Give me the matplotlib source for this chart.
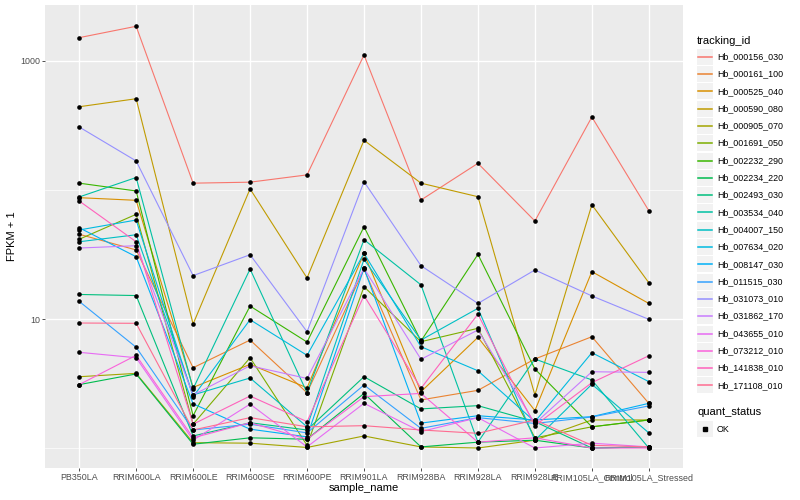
import matplotlib.pyplot as plt
from matplotlib.patches import Rectangle
from matplotlib.lines import Line2D
from matplotlib.ticker import NullFormatter
import numpy as np

plt.rcParams['font.family'] = ['Liberation Sans', 'DejaVu Sans']

samples = ['PB350LA', 'RRIM600LA', 'RRIM600LE', 'RRIM600SE', 'RRIM600PE',
           'RRIM901LA', 'RRIM928BA', 'RRIM928LA', 'RRIM928LE',
           'RRIM105LA_Control', 'RRIM105LA_Stressed']

tracking_ids = ['Hb_000156_030', 'Hb_000161_100', 'Hb_000525_040', 'Hb_000590_080',
                'Hb_000905_070', 'Hb_001691_050', 'Hb_002232_290', 'Hb_002234_220',
                'Hb_002493_030', 'Hb_003534_040', 'Hb_004007_150', 'Hb_007634_020',
                'Hb_008147_030', 'Hb_011515_030', 'Hb_031073_010', 'Hb_031862_170',
                'Hb_043655_010', 'Hb_073212_010', 'Hb_141838_010', 'Hb_171108_010']

# FPKM + 1, one value per sample (same order as samples)
hb_000156_030 = [1517, 1858, 113, 115, 131, 1113, 83.6, 161, 57.5, 368, 69.1]
hb_000161_100 = [45.4, 34.3, 4.19, 6.87, 2.68, 24.3, 2.36, 2.80, 4.90, 7.29, 2.22]
hb_000525_040 = [87.2, 83.2, 2.95, 4.45, 2.93, 32.3, 2.73, 7.21, 1.95, 23.3, 13.2]
hb_000590_080 = [442, 510, 9.15, 102, 20.8, 243, 113, 88.7, 2.58, 76.9, 19.1]
hb_000905_070 = [3.57, 3.79, 1.10, 1.09, 1.01, 1.24, 1.02, 1.00, 1.15, 1.65, 1.65]
hb_001691_050 = [41.5, 64.8, 1.53, 5.01, 1.05, 17.8, 6.67, 8.47, 1.20, 1.46, 1.65]
hb_002232_290 = [113, 98.3, 1.78, 12.6, 6.63, 51.9, 6.75, 31.7, 4.10, 1.46, 1.65]
hb_002234_220 = [3.10, 3.75, 1.07, 1.20, 1.17, 2.65, 1.02, 1.11, 1.15, 1.00, 1.02]
hb_002493_030 = [15.5, 15.2, 1.24, 1.57, 1.38, 3.57, 2.01, 2.13, 1.60, 1.00, 1.02]
hb_003534_040 = [88.3, 125, 2.88, 24.4, 2.68, 41.2, 18.4, 1.11, 4.90, 3.37, 1.00]
hb_004007_150 = [39.7, 45.0, 2.58, 3.49, 1.46, 29.0, 6.87, 12.1, 1.15, 3.12, 1.31]
hb_007634_020 = [49.0, 58.5, 2.50, 9.88, 5.23, 32.3, 6.10, 3.97, 1.60, 5.48, 3.27]
hb_008147_030 = [51.0, 30.4, 2.20, 1.40, 1.22, 24.7, 1.56, 1.78, 1.65, 1.75, 2.22]
hb_011515_030 = [13.7, 6.04, 1.38, 1.53, 1.31, 3.08, 1.42, 1.72, 1.55, 1.74, 2.12]
hb_031073_010 = [308, 168, 21.7, 31.5, 7.97, 116, 25.9, 13.2, 24.0, 15.1, 9.94]
hb_031862_170 = [35.5, 37.0, 2.58, 4.34, 3.46, 24.7, 4.87, 8.22, 1.55, 3.90, 3.86]
hb_043655_010 = [5.52, 5.01, 1.15, 2.19, 1.02, 2.22, 1.34, 1.72, 1.00, 1.09, 1.02]
hb_073212_010 = [3.10, 5.23, 1.20, 1.57, 1.17, 2.50, 2.65, 1.11, 1.20, 1.00, 1.00]
hb_141838_010 = [82.2, 39.7, 1.53, 2.53, 1.60, 15.2, 2.90, 10.9, 1.49, 3.21, 5.19]
hb_171108_010 = [9.31, 9.26, 1.38, 1.72, 1.46, 1.49, 1.38, 1.30, 1.65, 1.05, 1.02]

series = [hb_000156_030, hb_000161_100, hb_000525_040, hb_000590_080, hb_000905_070,
          hb_001691_050, hb_002232_290, hb_002234_220, hb_002493_030, hb_003534_040,
          hb_004007_150, hb_007634_020, hb_008147_030, hb_011515_030, hb_031073_010,
          hb_031862_170, hb_043655_010, hb_073212_010, hb_141838_010, hb_171108_010]

# ggplot default hue palette for 20 levels
colours = ['#F8766D', '#EA8331', '#D89000', '#C09B00', '#A3A500', '#7CAE00', '#39B600',
           '#00BB4E', '#00BF7D', '#00C1A3', '#00BFC4', '#00BAE0', '#00B0F6', '#35A2FF',
           '#9590FF', '#C77CFF', '#E76BF3', '#FA62DB', '#FF62BC', '#FF6C91']

W, H = 800, 500
def fx(px):
    return px / W
def fy(py):
    return 1 - py / H

fig = plt.figure(figsize=(8, 5), dpi=100)
ax = fig.add_axes([fx(45), fy(468), (683 - 45) / W, (468 - 5) / H])
ax.set_facecolor('#EBEBEB')
for s in ax.spines.values():
    s.set_visible(False)

x = np.arange(len(samples))
for vals, col in zip(series, colours):
    ax.plot(x, vals, color=col, lw=0.8, zorder=2)
for vals in series:
    ax.scatter(x, vals, s=11, color='black', linewidths=0, zorder=3)

ax.set_yscale('log')
ax.set_ylim(0.70, 2717)
ax.set_xlim(-0.6, len(samples) - 0.4)
ax.set_yticks([10, 1000])
ax.set_yticklabels(['10', '1000'])
ax.set_yticks([1, 100], minor=True)
ax.yaxis.set_minor_formatter(NullFormatter())
ax.set_xticks(x)
ax.set_xticklabels(samples)

ax.grid(which='major', color='white', lw=1.0, zorder=0)
ax.grid(which='minor', axis='y', color='white', lw=0.5, zorder=0)
ax.set_axisbelow(True)
ax.tick_params(which='minor', length=0)
ax.tick_params(which='major', length=2, width=0.6, color='#333333',
               labelsize=6.4, labelcolor='#4D4D4D', pad=1.5)

fig.text(fx(364), fy(488), 'sample_name', ha='center', va='center', fontsize=8)
fig.text(fx(12), fy(236), 'FPKM + 1', ha='center', va='center', rotation=90, fontsize=8)

# legend, drawn by hand to mimic ggplot keys
fig.text(fx(697), fy(40.7), 'tracking_id', ha='left', va='center', fontsize=8)
for i, (tid, col) in enumerate(zip(tracking_ids, colours)):
    yc = 56.7 + i * 17.3
    fig.add_artist(Rectangle((fx(697), fy(yc + 8)), 16 / W, 16 / H,
                             transform=fig.transFigure, facecolor='#F2F2F2',
                             edgecolor='none'))
    fig.add_artist(Line2D([fx(698), fx(712)], [fy(yc), fy(yc)],
                          transform=fig.transFigure, color=col, lw=1.1))
    fig.text(fx(717), fy(yc), tid, ha='left', va='center', fontsize=6.4)

fig.text(fx(697), fy(411.7), 'quant_status', ha='left', va='center', fontsize=8)
fig.add_artist(Rectangle((fx(697), fy(429.3 + 8)), 16 / W, 16 / H,
                         transform=fig.transFigure, facecolor='#F2F2F2',
                         edgecolor='none'))
fig.add_artist(Line2D([fx(705)], [fy(429.3)], transform=fig.transFigure,
                      marker='s', ms=2.6, color='black', lw=0))
fig.text(fx(717), fy(429.3), 'OK', ha='left', va='center', fontsize=6.4)

fig.savefig('out.png', dpi=100)
